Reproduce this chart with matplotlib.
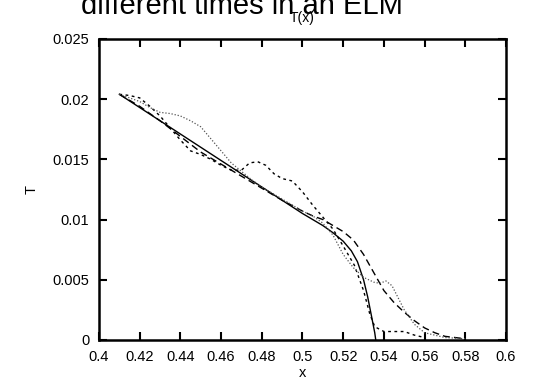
import matplotlib
matplotlib.use("Agg")
import matplotlib.pyplot as plt

# T(x) profiles at four times
x_solid = [0.41, 0.43, 0.45, 0.47, 0.49, 0.50, 0.505, 0.51, 0.515, 0.52, 0.524, 0.527,
           0.530, 0.532, 0.534, 0.5355, 0.536]
t_solid = [0.0204, 0.0182, 0.0160, 0.0138, 0.0116, 0.0105, 0.0100, 0.0095, 0.0089, 0.0082, 0.0074,
           0.0065, 0.0050, 0.0036, 0.0019, 0.0006, 0.0]

x_long = [0.41, 0.42, 0.43, 0.44, 0.45, 0.46, 0.47, 0.48, 0.49, 0.50, 0.505, 0.51, 0.515,
          0.52, 0.525, 0.53, 0.535, 0.54, 0.545, 0.55, 0.555, 0.56, 0.565, 0.57, 0.58]
t_long = [0.0204, 0.0194, 0.0182, 0.0169, 0.0156, 0.0146, 0.0136, 0.0126, 0.0116, 0.0107, 0.0103,
          0.0100, 0.0095, 0.0090, 0.0083, 0.0071, 0.0056, 0.0041, 0.0031, 0.0023, 0.0016, 0.0010,
          0.0006, 0.0003, 0.0001]

x_short = [0.41, 0.415, 0.42, 0.425, 0.43, 0.435, 0.44, 0.445, 0.45, 0.455, 0.46, 0.465, 0.47,
           0.474, 0.478, 0.482, 0.486, 0.49, 0.495, 0.50, 0.505, 0.51, 0.515, 0.52, 0.5255,
           0.53, 0.533, 0.5355, 0.54, 0.55, 0.555, 0.56]
t_short = [0.0204, 0.0203, 0.0201, 0.0194, 0.0186, 0.0176, 0.0166, 0.0157, 0.0154, 0.0150, 0.0145,
           0.0141, 0.0141, 0.0147, 0.0148, 0.0145, 0.0138, 0.0134, 0.0132, 0.0123, 0.0112, 0.0102,
           0.0092, 0.0078, 0.0062, 0.0041, 0.0022, 0.0011, 0.0007, 0.0007, 0.0004, 0.0002]

x_dot = [0.41, 0.42, 0.425, 0.43, 0.435, 0.44, 0.445, 0.45, 0.455, 0.46, 0.465, 0.47, 0.475,
         0.48, 0.49, 0.50, 0.505, 0.51, 0.515, 0.52, 0.525, 0.53, 0.535, 0.538, 0.541, 0.544,
         0.547, 0.55, 0.555, 0.56, 0.57, 0.58]
t_dot = [0.0204, 0.0198, 0.0193, 0.0189, 0.0188, 0.0186, 0.0182, 0.0177, 0.0167, 0.0157, 0.0147,
         0.0140, 0.0133, 0.0127, 0.0117, 0.0107, 0.0103, 0.0097, 0.0087, 0.0071, 0.0060, 0.0052,
         0.0048, 0.0047, 0.0049, 0.0045, 0.0035, 0.0025, 0.0013, 0.0006, 0.0002, 0.0001]

xticks = [0.4, 0.42, 0.44, 0.46, 0.48, 0.5, 0.52, 0.54, 0.56, 0.58, 0.6]
xticklabels = ["0.4", "0.42", "0.44", "0.46", "0.48", "0.5", "0.52", "0.54", "0.56", "0.58", "0.6"]
yticks = [0, 0.005, 0.01, 0.015, 0.02, 0.025]
yticklabels = ["0", "0.005", "0.01", "0.015", "0.02", "0.025"]

plt.rcParams['font.family'] = ['Liberation Sans', 'DejaVu Sans']

fig = plt.figure(figsize=(5.5, 3.85), dpi=100)
ax = fig.add_axes([0.18, 0.117, 0.74, 0.782])

ax.plot(x_solid, t_solid, color='black', lw=1.0, linestyle='-')
ax.plot(x_long, t_long, color='black', lw=1.0, linestyle=(0, (5, 3)))
ax.plot(x_short, t_short, color='black', lw=1.0, linestyle=(0, (2, 2.5)))
ax.plot(x_dot, t_dot, color='#555555', lw=0.9, linestyle=(0, (1, 1.5)))

ax.set_xlim(0.4, 0.6)
ax.set_ylim(0, 0.025)
ax.set_xticks(xticks)
ax.set_xticklabels(xticklabels)
ax.set_yticks(yticks)
ax.set_yticklabels(yticklabels)
ax.tick_params(axis='both', direction='in', top=True, right=True, length=6, width=1.5,
               labelsize=10.5)
ax.tick_params(axis='y', pad=7)
ax.tick_params(axis='x', pad=7)
for s in ax.spines.values():
    s.set_linewidth(1.8)

ax.set_xlabel('x', fontsize=10.5, labelpad=2)
ax.set_ylabel('T', fontsize=10.5, labelpad=10)

# title: last line of a multi-line title, clipped at top of the figure
fig.text(242 / 550, 1 - 14 / 385, 'different times in an ELM', fontsize=21,
         ha='center', va='baseline')
fig.text(302 / 550, 1 - 18 / 385, 'T(x)', fontsize=10, ha='center', va='center')

fig.savefig('out.png', dpi=100)
